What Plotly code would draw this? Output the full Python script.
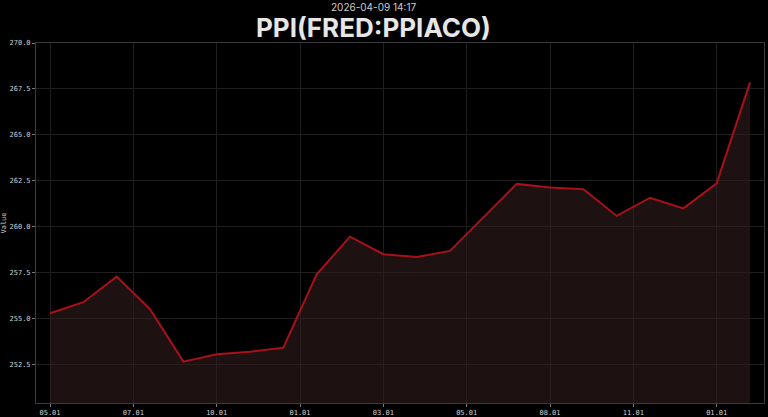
import plotly.graph_objects as go

# monthly PPI readings, 2024-05 .. 2026-02
dates = [
    "2024-05-01", "2024-06-01", "2024-07-01", "2024-08-01", "2024-09-01", "2024-10-01",
    "2024-11-01", "2024-12-01", "2025-01-01", "2025-02-01", "2025-03-01", "2025-04-01",
    "2025-05-01", "2025-06-01", "2025-07-01", "2025-08-01", "2025-09-01", "2025-10-01",
    "2025-11-01", "2025-12-01", "2026-01-01", "2026-02-01",
]
values = [
    255.31, 255.91, 257.30, 255.53, 252.68, 253.08,
    253.22, 253.44, 257.43, 259.47, 258.52, 258.37,
    258.70, 260.52, 262.34, 262.14, 262.05, 260.60,
    261.59, 261.01, 262.37, 267.86,
]
y_ticks = [252.5, 255.0, 257.5, 260.0, 262.5, 265.0, 267.5, 270.0]
tick_pos = [0, 2.5, 5, 7.5, 10, 12.5, 15, 17.5, 20]
tick_labels = [dates[round(p)][5:].replace("-", ".") for p in tick_pos]

TITLE = "PPI(FRED:PPIACO)"
STAMP = "2026-04-09 14:17"
idx = list(range(len(values)))

fig = go.Figure()
fig.add_trace(
    go.Scatter(
        x=idx,
        y=values,
        mode="lines",
        line={"color": "#a8101a", "width": 2},
        fill="tozeroy",
        fillcolor="rgba(50,28,28,0.6)",
        showlegend=False,
    )
)

axis_common = dict(
    automargin=False,
    showgrid=True,
    gridcolor="#1f1f1f",
    gridwidth=1,
    showline=True,
    linecolor="#3a3a3a",
    mirror=True,
    ticks="outside",
    ticklen=3,
    tickcolor="#777",
    zeroline=False,
    tickfont={"family": "DejaVu Sans Mono", "size": 7, "color": "#cfcfcf"},
)
fig.update_xaxes(
    range=[-0.42, 21.42],
    tickvals=tick_pos,
    ticktext=tick_labels,
    **axis_common,
)
fig.update_yaxes(
    range=[250.43, 270.0],
    tickvals=y_ticks,
    ticktext=[f"{v:.1f}" for v in y_ticks],
    title={"text": "Value", "font": {"family": "DejaVu Sans Mono", "size": 7, "color": "#cfcfcf"}, "standoff": 3},
    **axis_common,
)
fig.add_annotation(
    text=STAMP, xref="paper", yref="paper", x=0.464, y=1.1, yanchor="middle",
    showarrow=False, font={"family": "Inter", "size": 10, "color": "#cccccc"},
)
fig.add_annotation(
    text=f"<b>{TITLE}</b>", xref="paper", yref="paper", x=0.464, y=1.043, yanchor="middle",
    showarrow=False, font={"family": "Inter", "size": 26, "color": "#e6e6e6"},
)
fig.update_layout(
    width=768,
    height=417,
    margin={"l": 36, "r": 4, "t": 43, "b": 14},
    paper_bgcolor="#000000",
    plot_bgcolor="#000000",
)
# page body has a default 8px margin; drop it so the figure fills the window
fig.write_html(
    "out.html",
    config={"displayModeBar": False},
    post_script="document.body.style.margin='0';",
)
